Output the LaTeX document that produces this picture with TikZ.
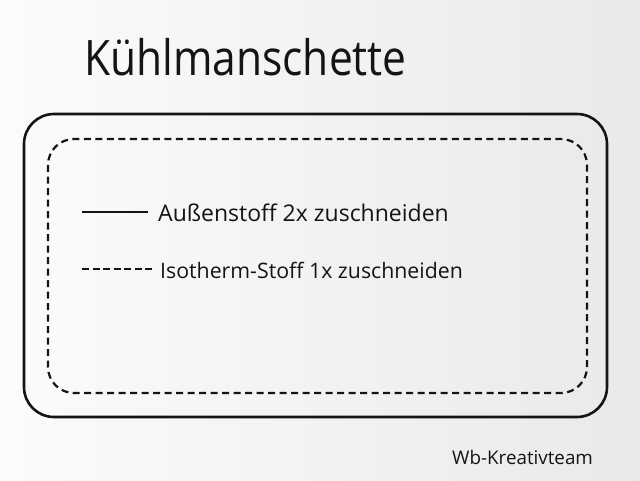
\documentclass[tikz,border=0pt]{standalone}
\usepackage{fontspec}
\setmainfont{Open Sans}
\definecolor{ink}{RGB}{20,20,20}
\begin{document}
\begin{tikzpicture}[x=1pt,y=-1pt,
  outerbox/.style={draw=ink, line width=2.6pt, rounded corners=30pt},
  innerbox/.style={draw=ink, line width=2.2pt, rounded corners=26pt, dash pattern=on 7pt off 4.5pt},
  legsolid/.style={draw=ink, line width=1.4pt},
  legdash/.style={draw=ink, line width=1.4pt, dash pattern=on 7pt off 3.5pt},
  hand/.style={text=ink, inner sep=0pt, anchor=base west}]
\shade[left color=gray!3, right color=gray!17] (0,0) rectangle (640,480);
\useasboundingbox (0,0) rectangle (640,480);
\node[hand, font=\fontsize{42.5}{48}\selectfont] (title) at (84,75) {\scalebox{1}[1.15]{Kühlmanschette}};
\path[outerbox] (24,114) rectangle (607,417);
\path[innerbox] (48,139) rectangle (587,393);
\coordinate (s1) at (82,212);
\coordinate (s2) at (148,212);
\draw[legsolid] (s1) -- (s2);
\node[hand, font=\fontsize{23}{26}\selectfont] (aussen) at (158,221) {Außenstoff 2x zuschneiden};
\coordinate (d1) at (82,269);
\coordinate (d2) at (153,269);
\draw[legdash] (d1) -- (d2);
\node[hand, font=\fontsize{21.3}{25}\selectfont] (iso) at (160,278) {Isotherm-Stoff 1x zuschneiden};
\node[hand, font=\fontsize{18.8}{21}\selectfont] (team) at (452,464) {Wb-Kreativteam};
\end{tikzpicture}
\end{document}
